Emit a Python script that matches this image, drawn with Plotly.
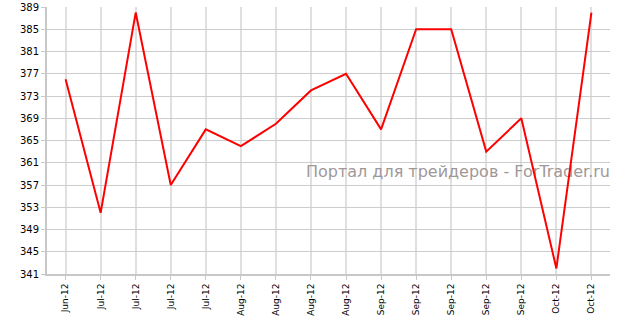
import plotly.graph_objects as go

categories = ["Jun-12", "Jul-12", "Jul-12", "Jul-12", "Jul-12", "Aug-12", "Aug-12", "Aug-12",
              "Aug-12", "Sep-12", "Sep-12", "Sep-12", "Sep-12", "Sep-12", "Oct-12", "Oct-12"]
values = [376, 352, 388, 357, 367, 364, 368, 374, 377, 367, 385, 385, 363, 369, 342, 388]
y_ticks = list(range(341, 390, 4))
watermark = "Портал для трейдеров - ForTrader.ru"

idx = list(range(len(categories)))
x_range = [-0.53, len(categories) - 0.47]
y_range = [341, 389]

fig = go.Figure()
# watermark drawn first so the line passes over it
fig.add_trace(go.Scatter(
    x=[x_range[1]], y=[y_range[0] + 0.38 * (y_range[1] - y_range[0])],
    mode="text", text=[watermark], textposition="middle left",
    textfont=dict(family="DejaVu Sans", size=16, color="#a09898"),
    hoverinfo="skip", cliponaxis=False))
fig.add_trace(go.Scatter(x=idx, y=values, mode="lines",
                         line=dict(color="#ff0000", width=2), hoverinfo="skip"))

fig.update_layout(
    width=618, height=321,
    margin=dict(l=47, r=8, t=7, b=47),
    paper_bgcolor="white", plot_bgcolor="white",
    showlegend=False,
    font=dict(family="DejaVu Sans", color="#000000"),
    xaxis=dict(
        range=x_range, automargin=False,
        tickmode="array", tickvals=idx, ticktext=categories,
        tickangle=-90, tickfont=dict(size=9),
        showgrid=True, gridcolor="#e0e0e0", gridwidth=2,
        zeroline=False,
        showline=True, linecolor="#c8c8c8", linewidth=2,
        ticks="outside", ticklen=4, tickcolor="#c8c8c8",
    ),
    yaxis=dict(
        range=y_range, automargin=False,
        tickmode="array", tickvals=y_ticks,
        tickfont=dict(size=10),
        showgrid=True, gridcolor="#cccccc", gridwidth=1,
        zeroline=False,
        showline=True, linecolor="#c8c8c8", linewidth=2,
        ticks="outside", ticklen=4, tickcolor="#c8c8c8",
    ),
)

fig.write_html("out.html")
